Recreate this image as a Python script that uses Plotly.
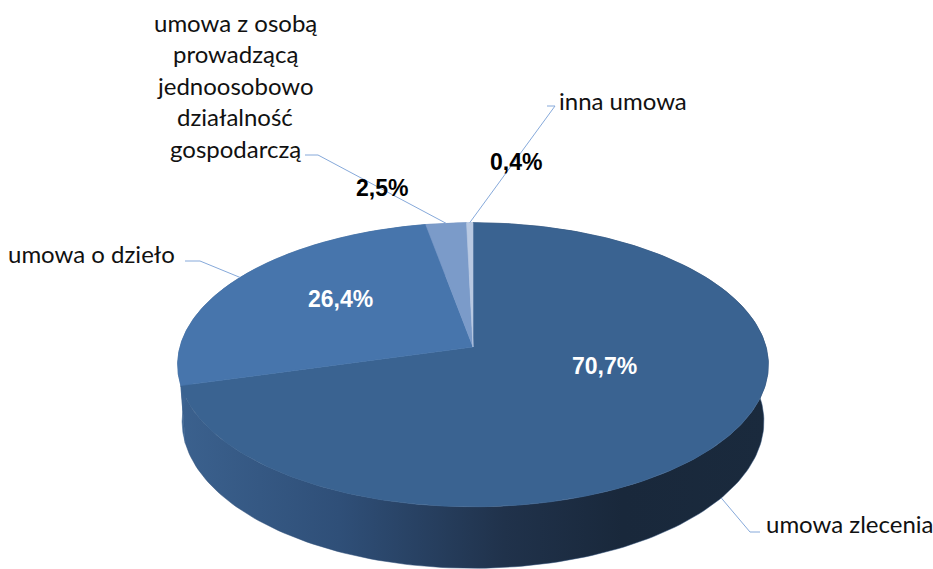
import numpy as np
import plotly.graph_objects as go

# ---------------- data ----------------
categories = [
    "umowa zlecenia",
    "umowa o dzieło",
    "umowa z osobą<br>prowadzącą<br>jednoosobowo<br>działalność<br>gospodarczą",
    "inna umowa",
]
values = [70.7, 26.4, 2.5, 0.4]
value_labels = ["70,7%", "26,4%", "2,5%", "0,4%"]

# ---------------- styling ----------------
top_colors = ["#3A6391", "#4775AC", "#7B9BC9", "#B9C9E2"]
side_colors = ["#2E4E78", "#3D6492", "#5E7FAE", "#9FB3D3"]
value_font_colors = ["white", "white", "black", "black"]
leader_color = "#86A9DA"

W, H = 933, 569
# projection parameters of the tilted 3D disk (pixel space)
CX, CY = 473, 347
F = 2063.0
TILT = np.radians(28.5)
DIST = 7.04
DEPTH = 0.222


def proj(theta, r=1.0, yh=0.0):
    X = r * np.sin(theta)
    Z = r * np.cos(theta)
    yc = yh * np.cos(TILT) + Z * np.sin(TILT)
    zc = -yh * np.sin(TILT) + Z * np.cos(TILT) + DIST
    return CX + F * X / zc, CY - F * yc / zc


total = sum(values)
fracs = np.array(values) / total
starts = np.concatenate([[0], np.cumsum(fracs)[:-1]]) * 2 * np.pi
ends = np.cumsum(fracs) * 2 * np.pi

fig = go.Figure()

# sides (drawn first, tops cover hidden parts)
for i in range(len(values)):
    th = np.linspace(starts[i], ends[i], 200)
    xt, yt = proj(th, 1.0, 0.0)
    xb, yb = proj(th[::-1], 1.0, -DEPTH)
    xs = np.concatenate([xt, xb, xt[:1]])
    ys = np.concatenate([yt, yb, yt[:1]])
    kw = dict(fillcolor=side_colors[i])
    if i == 0:
        kw = dict(fillgradient=dict(
            type="horizontal",
            colorscale=[[0, "#3B618E"], [0.27, "#2F4F78"], [0.55, "#20324B"],
                        [0.75, "#19283B"], [1, "#1A2A3D"]],
            start=180, stop=770))
    fig.add_trace(go.Scatter(x=xs, y=ys, mode="lines", fill="toself",
                             line=dict(width=0.5, color=side_colors[i]),
                             hoverinfo="skip", showlegend=False, **kw))

# top faces
for i in range(len(values)):
    th = np.linspace(starts[i], ends[i], 300)
    xt, yt = proj(th, 1.0, 0.0)
    x0, y0 = proj(0.0, 0.0, 0.0)
    xs = np.concatenate([[x0], xt, [x0]])
    ys = np.concatenate([[y0], yt, [y0]])
    fig.add_trace(go.Scatter(x=xs, y=ys, mode="lines", fill="toself",
                             fillcolor=top_colors[i],
                             line=dict(width=0.6, color=top_colors[i]),
                             hoverinfo="skip", showlegend=False))

# leader lines: anchor computed from slice mid-angle; elbows are layout positions
mids = (starts + ends) / 2
anchors = [proj(mids[0], 1.0, -DEPTH)] + [proj(m, 1.0, 0.0) for m in mids[1:]]
elbows = [
    [(760, 532), (750, 532)],
    [(185, 261), (200, 261)],
    [(305, 155), (318, 155)],
    [(547, 106), (555, 106)],
]
for i in range(len(values)):
    pts = elbows[i] + [anchors[i]]
    fig.add_trace(go.Scatter(x=[p[0] for p in pts], y=[p[1] for p in pts],
                             mode="lines", line=dict(color=leader_color, width=1),
                             hoverinfo="skip", showlegend=False))

# category labels (each line placed separately for exact line spacing)
cat_font = dict(family="Lato, Carlito, sans-serif", size=24, color="#111111")
cat_pos = [
    dict(x=764, y=523, xanchor="left"),
    dict(x=177, y=253, xanchor="right"),
    dict(x=235, y=148, xanchor="center"),   # y of last line
    dict(x=557, y=100, xanchor="left"),
]
LINE_GAP = 31.5
for i in range(len(values)):
    lines = categories[i].split("<br>")
    n = len(lines)
    for k, ln in enumerate(lines):
        p = dict(cat_pos[i])
        p["y"] = p["y"] - LINE_GAP * (n - 1 - k)
        fig.add_annotation(text=ln, showarrow=False, xref="x", yref="y",
                           yanchor="middle", align="center", font=cat_font, **p)

# value labels
val_pos = [(604, 366), (340, 299), (382, 188), (516, 162)]
for i in range(len(values)):
    fig.add_annotation(text="<b>%s</b>" % value_labels[i], showarrow=False,
                       xref="x", yref="y", x=val_pos[i][0], y=val_pos[i][1],
                       xanchor="center", yanchor="middle",
                       font=dict(family="Liberation Sans, Arial, sans-serif",
                                 size=23, color=value_font_colors[i]))

fig.update_layout(
    width=W, height=H,
    margin=dict(l=0, r=0, t=0, b=0),
    paper_bgcolor="white", plot_bgcolor="white",
    xaxis=dict(range=[0, W], visible=False, fixedrange=True),
    yaxis=dict(range=[H, 0], visible=False, fixedrange=True),
    showlegend=False,
)

fig.write_html("out.html", config={"displayModeBar": False},
               post_script="document.body.style.margin='0';document.body.style.overflow='hidden';")
